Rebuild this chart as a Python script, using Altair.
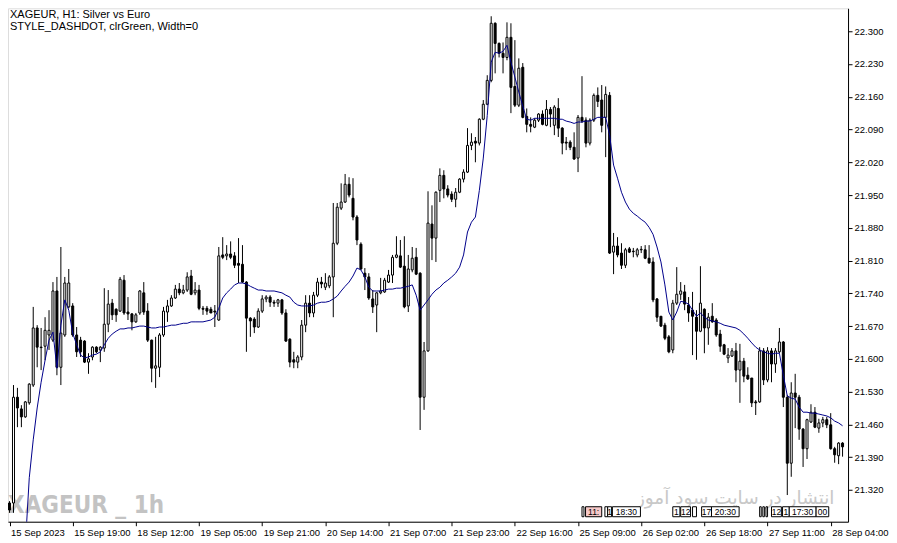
import altair as alt
import pandas as pd

time_labels = ["15 Sep 2023", "15 Sep 19:00", "18 Sep 12:00", "19 Sep 05:00", "19 Sep 21:00",
               "20 Sep 14:00", "21 Sep 07:00", "21 Sep 23:00", "22 Sep 16:00", "25 Sep 09:00",
               "26 Sep 02:00", "26 Sep 18:00", "27 Sep 11:00", "28 Sep 04:00"]
label_bars = [16 * k for k in range(len(time_labels))]
price_ticks = [21.320, 21.390, 21.460, 21.530, 21.600, 21.670, 21.740, 21.810,
               21.880, 21.950, 22.020, 22.090, 22.160, 22.230, 22.300]

opens = [
    21.292, 21.292, 21.518, 21.493, 21.476, 21.506, 21.544, 21.666, 21.625, 21.627,
    21.651, 21.640, 21.745, 21.582, 21.651, 21.711, 21.713, 21.651, 21.640, 21.638,
    21.593, 21.604, 21.625, 21.619, 21.623, 21.674, 21.719, 21.706, 21.702, 21.768,
    21.700, 21.696, 21.679, 21.698, 21.741, 21.702, 21.640, 21.580, 21.582, 21.651,
    21.700, 21.713, 21.730, 21.749, 21.741, 21.747, 21.777, 21.741, 21.747, 21.708,
    21.708, 21.706, 21.702, 21.683, 21.822, 21.820, 21.824, 21.820, 21.804, 21.802,
    21.764, 21.687, 21.685, 21.668, 21.702, 21.728, 21.732, 21.721, 21.719, 21.726,
    21.698, 21.642, 21.598, 21.593, 21.604, 21.672, 21.719, 21.698, 21.736, 21.764,
    21.753, 21.756, 21.775, 21.847, 21.922, 21.935, 21.973, 21.943, 21.903, 21.845,
    21.783, 21.775, 21.728, 21.715, 21.741, 21.743, 21.764, 21.779, 21.817, 21.820,
    21.798, 21.713, 21.790, 21.817, 21.783, 21.518, 21.617, 21.888, 21.858, 21.960,
    21.992, 21.963, 21.952, 21.941, 21.956, 21.984, 21.999, 22.056, 22.065, 22.061,
    22.112, 22.144, 22.195, 22.317, 22.274, 22.253, 22.244, 22.287, 22.182, 22.142,
    22.223, 22.118, 22.101, 22.095, 22.110, 22.123, 22.099, 22.133, 22.099, 22.135,
    22.093, 22.063, 22.063, 22.052, 22.029, 22.116, 22.110, 22.061, 22.110, 22.163,
    22.153, 22.116, 22.163, 21.828, 21.841, 21.826, 21.800, 21.835, 21.830, 21.822,
    21.833, 21.833, 21.815, 21.807, 21.728, 21.691, 21.672, 21.647, 21.619, 21.719,
    21.738, 21.743, 21.715, 21.704, 21.689, 21.659, 21.706, 21.666, 21.691, 21.683,
    21.653, 21.630, 21.602, 21.606, 21.617, 21.576, 21.595, 21.565, 21.559, 21.508,
    21.508, 21.617, 21.555, 21.617, 21.589, 21.615, 21.636, 21.518, 21.377, 21.527,
    21.518, 21.450, 21.408, 21.465, 21.486, 21.452, 21.463, 21.470, 21.459, 21.408,
    21.393, 21.420,
]
highs = [
    21.296, 21.544, 21.538, 21.501, 21.510, 21.548, 21.711, 21.672, 21.666, 21.689,
    21.704, 21.764, 21.775, 21.839, 21.775, 21.792, 21.719, 21.668, 21.647, 21.640,
    21.612, 21.627, 21.627, 21.627, 21.751, 21.747, 21.728, 21.708, 21.775, 21.779,
    21.732, 21.698, 21.698, 21.747, 21.764, 21.719, 21.641, 21.647, 21.655, 21.711,
    21.726, 21.736, 21.758, 21.762, 21.758, 21.785, 21.790, 21.764, 21.758, 21.713,
    21.713, 21.711, 21.715, 21.839, 21.860, 21.843, 21.851, 21.828, 21.858, 21.843,
    21.766, 21.689, 21.689, 21.708, 21.736, 21.736, 21.736, 21.726, 21.728, 21.728,
    21.706, 21.644, 21.615, 21.608, 21.683, 21.736, 21.736, 21.743, 21.773, 21.775,
    21.783, 21.779, 21.933, 21.933, 21.975, 21.995, 21.988, 21.986, 21.907, 21.849,
    21.794, 21.783, 21.747, 21.743, 21.773, 21.773, 21.790, 21.822, 21.862, 21.854,
    21.862, 21.822, 21.839, 21.837, 21.785, 21.636, 21.958, 21.928, 21.958, 22.007,
    22.003, 21.971, 21.958, 21.965, 21.986, 22.005, 22.093, 22.082, 22.074, 22.114,
    22.153, 22.206, 22.332, 22.319, 22.276, 22.276, 22.319, 22.317, 22.281, 22.242,
    22.232, 22.135, 22.116, 22.114, 22.125, 22.131, 22.153, 22.138, 22.142, 22.157,
    22.095, 22.074, 22.067, 22.084, 22.121, 22.204, 22.116, 22.114, 22.167, 22.180,
    22.185, 22.182, 22.170, 21.869, 21.860, 21.847, 21.837, 21.839, 21.837, 21.837,
    21.841, 21.843, 21.843, 21.817, 21.730, 21.691, 21.677, 21.651, 21.726, 21.796,
    21.764, 21.758, 21.732, 21.743, 21.704, 21.798, 21.708, 21.698, 21.719, 21.687,
    21.662, 21.632, 21.623, 21.623, 21.634, 21.632, 21.602, 21.582, 21.559, 21.512,
    21.625, 21.623, 21.625, 21.623, 21.623, 21.666, 21.638, 21.523, 21.550, 21.568,
    21.523, 21.452, 21.472, 21.503, 21.497, 21.472, 21.476, 21.476, 21.484, 21.412,
    21.422, 21.422,
]
lows = [
    21.271, 21.271, 21.454, 21.454, 21.474, 21.502, 21.540, 21.582, 21.576, 21.597,
    21.619, 21.636, 21.565, 21.544, 21.647, 21.708, 21.647, 21.604, 21.604, 21.591,
    21.568, 21.597, 21.612, 21.593, 21.615, 21.657, 21.683, 21.679, 21.700, 21.694,
    21.683, 21.661, 21.677, 21.694, 21.694, 21.636, 21.550, 21.538, 21.561, 21.647,
    21.679, 21.711, 21.728, 21.736, 21.738, 21.743, 21.736, 21.736, 21.704, 21.694,
    21.694, 21.698, 21.668, 21.681, 21.813, 21.811, 21.813, 21.794, 21.762, 21.762,
    21.615, 21.647, 21.655, 21.666, 21.698, 21.721, 21.711, 21.711, 21.711, 21.694,
    21.636, 21.582, 21.580, 21.580, 21.597, 21.657, 21.689, 21.689, 21.732, 21.751,
    21.747, 21.751, 21.689, 21.843, 21.918, 21.933, 21.945, 21.896, 21.843, 21.790,
    21.747, 21.726, 21.698, 21.657, 21.738, 21.741, 21.762, 21.762, 21.815, 21.794,
    21.708, 21.700, 21.785, 21.779, 21.448, 21.491, 21.615, 21.811, 21.807, 21.935,
    21.943, 21.945, 21.935, 21.924, 21.954, 21.977, 21.997, 22.046, 22.020, 22.056,
    22.110, 22.142, 22.191, 22.210, 22.244, 22.210, 22.238, 22.125, 22.138, 22.138,
    22.114, 22.084, 22.084, 22.093, 22.106, 22.099, 22.097, 22.095, 22.078, 22.074,
    22.037, 22.046, 22.046, 22.025, 21.999, 22.104, 22.052, 22.056, 22.106, 22.138,
    22.084, 22.031, 21.824, 21.781, 21.817, 21.792, 21.794, 21.826, 21.817, 21.817,
    21.826, 21.813, 21.803, 21.721, 21.679, 21.668, 21.640, 21.612, 21.612, 21.715,
    21.726, 21.704, 21.679, 21.608, 21.598, 21.657, 21.612, 21.630, 21.677, 21.647,
    21.615, 21.608, 21.591, 21.604, 21.550, 21.506, 21.550, 21.555, 21.497, 21.480,
    21.506, 21.544, 21.550, 21.550, 21.570, 21.612, 21.497, 21.309, 21.348, 21.452,
    21.427, 21.369, 21.386, 21.463, 21.452, 21.442, 21.454, 21.452, 21.406, 21.378,
    21.375, 21.391,
]
closes = [
    21.277, 21.518, 21.495, 21.476, 21.508, 21.546, 21.666, 21.625, 21.624, 21.661,
    21.661, 21.745, 21.582, 21.655, 21.762, 21.762, 21.651, 21.615, 21.615, 21.593,
    21.600, 21.625, 21.615, 21.625, 21.674, 21.717, 21.694, 21.694, 21.770, 21.698,
    21.696, 21.679, 21.694, 21.745, 21.700, 21.640, 21.580, 21.585, 21.651, 21.702,
    21.713, 21.730, 21.749, 21.741, 21.747, 21.775, 21.738, 21.747, 21.708, 21.706,
    21.702, 21.698, 21.700, 21.820, 21.817, 21.824, 21.817, 21.800, 21.800, 21.764,
    21.687, 21.681, 21.668, 21.702, 21.728, 21.732, 21.721, 21.719, 21.726, 21.698,
    21.638, 21.593, 21.593, 21.604, 21.672, 21.719, 21.698, 21.736, 21.764, 21.760,
    21.762, 21.775, 21.847, 21.924, 21.935, 21.973, 21.950, 21.903, 21.854, 21.792,
    21.775, 21.730, 21.711, 21.741, 21.745, 21.768, 21.779, 21.817, 21.822, 21.796,
    21.711, 21.792, 21.815, 21.781, 21.518, 21.617, 21.890, 21.858, 21.956, 21.992,
    21.963, 21.950, 21.941, 21.956, 21.984, 21.999, 22.056, 22.063, 22.061, 22.112,
    22.144, 22.195, 22.317, 22.274, 22.253, 22.244, 22.287, 22.180, 22.142, 22.221,
    22.116, 22.101, 22.097, 22.110, 22.123, 22.101, 22.133, 22.123, 22.138, 22.093,
    22.061, 22.061, 22.052, 22.027, 22.116, 22.108, 22.061, 22.110, 22.163, 22.150,
    22.099, 22.165, 21.826, 21.841, 21.822, 21.800, 21.833, 21.828, 21.829, 21.833,
    21.834, 21.815, 21.805, 21.726, 21.689, 21.670, 21.644, 21.615, 21.719, 21.738,
    21.745, 21.717, 21.698, 21.691, 21.659, 21.719, 21.666, 21.689, 21.679, 21.651,
    21.627, 21.610, 21.608, 21.617, 21.576, 21.595, 21.563, 21.557, 21.506, 21.506,
    21.617, 21.555, 21.617, 21.589, 21.617, 21.636, 21.518, 21.377, 21.527, 21.518,
    21.450, 21.408, 21.470, 21.486, 21.454, 21.463, 21.470, 21.459, 21.408, 21.395,
    21.420, 21.412,
]
ma_values = [
    None, None, None, None, 21.202, 21.346, 21.427, 21.495, 21.550, 21.597,
    21.640, 21.657, 21.580, 21.672, 21.726, 21.704, 21.655, 21.630, 21.608, 21.602,
    21.604, 21.608, 21.610, 21.615, 21.630, 21.644, 21.653, 21.659, 21.664, 21.664,
    21.666, 21.666, 21.668, 21.670, 21.670, 21.668, 21.666, 21.666, 21.668, 21.668,
    21.670, 21.672, 21.672, 21.674, 21.676, 21.676, 21.679, 21.679, 21.679, 21.679,
    21.681, 21.683, 21.689, 21.708, 21.730, 21.741, 21.749, 21.758, 21.762, 21.762,
    21.760, 21.755, 21.751, 21.747, 21.747, 21.745, 21.745, 21.745, 21.743, 21.741,
    21.736, 21.732, 21.721, 21.715, 21.713, 21.713, 21.713, 21.715, 21.719, 21.721,
    21.721, 21.723, 21.728, 21.734, 21.745, 21.755, 21.764, 21.777, 21.794, 21.790,
    21.775, 21.753, 21.745, 21.745, 21.745, 21.747, 21.749, 21.749, 21.751, 21.751,
    21.753, 21.755, 21.758, 21.736, 21.704, 21.715, 21.726, 21.738, 21.747, 21.753,
    21.762, 21.768, 21.775, 21.783, 21.796, 21.822, 21.871, 21.892, 21.903, 21.960,
    22.029, 22.120, 22.234, 22.255, 22.253, 22.257, 22.270, 22.234, 22.202, 22.170,
    22.140, 22.112, 22.110, 22.114, 22.114, 22.114, 22.114, 22.114, 22.114, 22.112,
    22.112, 22.108, 22.106, 22.103, 22.106, 22.106, 22.108, 22.108, 22.112, 22.116,
    22.116, 22.116, 22.078, 22.014, 21.986, 21.956, 21.935, 21.920, 21.911, 21.905,
    21.898, 21.892, 21.881, 21.866, 21.839, 21.807, 21.758, 21.700, 21.683, 21.700,
    21.723, 21.721, 21.717, 21.704, 21.691, 21.698, 21.689, 21.683, 21.681, 21.679,
    21.676, 21.672, 21.670, 21.668, 21.666, 21.661, 21.653, 21.644, 21.634, 21.625,
    21.619, 21.615, 21.612, 21.610, 21.612, 21.612, 21.565, 21.521, 21.516, 21.514,
    21.497, 21.486, 21.486, 21.484, 21.484, 21.482, 21.480, 21.478, 21.474, 21.467,
    21.463, 21.457,
]

# event markers along the bottom of the chart (bar index ranges)
box_start = [145.0, 145.9, 150.8, 151.5, 152.7, 168.0, 170.0, 173.0, 175.3, 177.8,
             190.0, 190.8, 191.6, 193.0, 195.8, 197.5, 204.3]
box_end = [145.5, 150.0, 151.5, 152.5, 159.8, 169.8, 172.5, 174.0, 177.8, 184.8,
           190.4, 191.2, 192.0, 195.5, 197.5, 204.3, 207.5]
box_text = ["", "11:", "", "1", "18:30", "1", "12", "", "17", "20:30",
            "", "", "", "12", "1", "17:30", "00"]

n = len(opens)
df = pd.DataFrame({"bar": list(range(n)), "open": opens, "high": highs,
                   "low": lows, "close": closes, "ma": ma_values})
boxes = pd.DataFrame({"b0": box_start, "b1": box_end, "txt": box_text})
boxes["mid"] = (boxes["b0"] + boxes["b1"]) / 2
boxes["fill"] = ["#f6c9c9" if t == "11:" else "white" for t in box_text]

# 4 px per bar, bar centres on half pixels so 1px wicks stay crisp
xs = alt.Scale(domain=[0.875, 211.125], nice=False, zero=False)
ys = alt.Scale(domain=[21.252, 22.349], nice=False, zero=False)

label_expr = "[" + ",".join("'%s'" % t for t in time_labels) + "][round(datum.value/16)]"
FONT = "Liberation Sans"

x_axis = alt.Axis(values=label_bars, labelExpr=label_expr, title=None, orient="bottom",
                  tickSize=4, labelAlign="left", labelBaseline="top", labelPadding=2,
                  labelOffset=1, labelFont=FONT, labelFontSize=9.5, labelColor="black",
                  tickColor="black", domainColor="black", grid=False,
                  labelOverlap=False, labelFlush=False)
y_axis = alt.Axis(values=price_ticks, format=".3f", orient="right", title=None,
                  tickSize=4, labelPadding=2, labelFont=FONT, labelFontSize=9.5,
                  labelColor="black", tickColor="black", domainColor="black",
                  grid=False, labelOverlap=False, labelFlush=False)

base = alt.Chart(df)

wm1 = alt.Chart(pd.DataFrame({"t": ["XAGEUR _ 1h"]})).mark_text(
    align="left", baseline="alphabetic",
    font="DejaVu Sans Condensed, Roboto Condensed, Roboto, Liberation Sans",
    fontWeight="bold", fontSize=24, color="#c3c3c3"
).encode(x=alt.value(0), y=alt.value(505), text="t:N")

wm2 = alt.Chart(pd.DataFrame({"t": ["انتشار در سایت سود آموز"]})).mark_text(
    align="center", baseline="alphabetic", font="DejaVu Sans", fontSize=18.5, color="#c8c8c8"
).encode(x=alt.value(728), y=alt.value(496), text="t:N")

wicks = base.mark_rule(color="black", strokeWidth=1).encode(
    x=alt.X("bar:Q", scale=xs, axis=x_axis),
    y=alt.Y("low:Q", scale=ys, axis=y_axis),
    y2="high:Q",
)
bodies = base.mark_bar(width=2, stroke="black", strokeWidth=1).encode(
    x=alt.X("bar:Q", scale=xs, axis=x_axis),
    y=alt.Y("open:Q", scale=ys, axis=y_axis),
    y2="close:Q",
    fill=alt.condition("datum.close >= datum.open", alt.value("white"), alt.value("black")),
)
ma_line = base.mark_line(color="#00008b", strokeWidth=1, clip=True).encode(
    x=alt.X("bar:Q", scale=xs, axis=x_axis),
    y=alt.Y("ma:Q", scale=ys, axis=y_axis),
)

box_rects = alt.Chart(boxes).mark_rect(stroke="black", strokeWidth=1).encode(
    x=alt.X("b0:Q", scale=xs, axis=x_axis), x2="b1:Q",
    y=alt.value(499), y2=alt.value(509),
    fill=alt.Fill("fill:N", scale=None),
)
box_labels = alt.Chart(boxes).mark_text(
    font=FONT, fontSize=8.5, color="black", baseline="middle", align="center"
).encode(x=alt.X("mid:Q", scale=xs, axis=x_axis), y=alt.value(504.5), text="txt:N")

header1 = alt.Chart(pd.DataFrame({"t": ["XAGEUR, H1:  Silver vs Euro"]})).mark_text(
    align="left", baseline="top", font=FONT, fontSize=11, color="black"
).encode(x=alt.value(2), y=alt.value(1), text="t:N")
header2 = alt.Chart(pd.DataFrame({"t": ["STYLE_DASHDOT, clrGreen, Width=0"]})).mark_text(
    align="left", baseline="top", font=FONT, fontSize=11, color="black"
).encode(x=alt.value(2), y=alt.value(13), text="t:N")

chart = alt.layer(wm1, wm2, wicks, bodies, ma_line, box_rects, box_labels,
                  header1, header2).properties(
    width=841, height=514, padding=0
).configure_view(
    stroke="black", strokeWidth=1
).configure(background="white")

chart.save("out.html", embed_options={"renderer": "svg", "actions": False})
